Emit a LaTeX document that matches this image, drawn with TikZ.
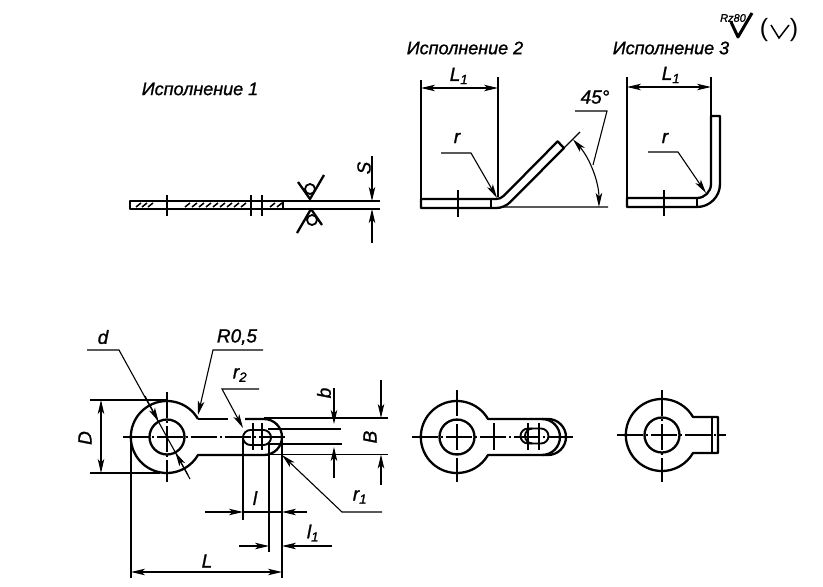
\documentclass[tikz,border=0pt]{standalone}
\usepackage{fontspec}
\setmainfont[ItalicFeatures={FakeBold=1.2}]{Liberation Sans}
\usetikzlibrary{arrows.meta}
\tikzset{
  >={Stealth[length=14pt,width=6.5pt,inset=3.5pt]}, % long narrow heads of the dimensions
  contour/.style={line width=2.3pt, line join=round},
  slotline/.style={line width=1.9pt, line join=round},
  thinline/.style={line width=1.1pt},
  axisline/.style={thinline, dash pattern=on 26pt off 3pt on 2pt off 3pt},
  heading/.style={font=\itshape\fontsize{18}{18}\selectfont, inner sep=0pt},
  dimtext/.style={font=\itshape\fontsize{19}{19}\selectfont, inner sep=0pt},
}
\begin{document}
\begin{tikzpicture}[x=1pt, y=-1pt]
  \useasboundingbox (0,0) rectangle (823,587);

  % headings and roughness marks
  \node[heading] (head1) at (200,89) {Исполнение 1};
  \node[heading] (head2) at (465,48) {Исполнение 2};
  \node[heading] (head3) at (671,48) {Исполнение 3};
  \node[font=\itshape\fontsize{11}{11}\selectfont, inner sep=0pt] (rough) at (733,18) {Rz80};
  \node[font=\fontsize{25}{25}\selectfont, inner sep=0pt] (openp) at (764,30) {(};
  \node[font=\fontsize{25}{25}\selectfont, inner sep=0pt] (closep) at (794,30) {)};
  \coordinate (c1) at (731,22); \coordinate (c2) at (738,37); \coordinate (c3) at (752,13);
  \coordinate (v1) at (771,25); \coordinate (v2) at (779,38); \coordinate (v3) at (789,25);
  \draw[line width=3pt, line join=round] (c1) -- (c2) -- (c3);
  \draw[line width=1.5pt] (v1) -- (v2) -- (v3);

  % version 1, flat strip
  \draw[contour] (130,201) rectangle (283,209);
  \foreach \hx in {136,142,148,185,192,199,206,213,220,227,234,241,270,277}
    \draw[line width=1.5pt] (\hx,207) -- (\hx+5,203);
  \foreach \hx in {167,251,262}
    \draw[thinline] (\hx,195) -- (\hx,216);
  \coordinate (s1) at (283,201); \coordinate (s2) at (380,201);
  \coordinate (s3) at (283,209); \coordinate (s4) at (380,209);
  \draw[thinline] (s1) -- (s2) (s3) -- (s4);
  \coordinate (stop) at (372,156); \coordinate (stip) at (372,201);
  \coordinate (sbot) at (372,243); \coordinate (sbip) at (372,209);
  \draw[thinline,->] (stop) -- (stip);
  \draw[thinline,->] (sbot) -- (sbip);
  \node[dimtext, rotate=90] (Slabel) at (364,168) {S};
  % weld marks
  \draw[contour] (298,182) -- (310,199) -- (324,175);
  \draw[contour] (297,233) -- (311,209) -- (322,225);
  \node[circle, draw, line width=1.8pt, minimum size=10pt, inner sep=0pt] (weldA) at (310,189) {};
  \node[circle, draw, line width=1.8pt, minimum size=10pt, inner sep=0pt] (weldB) at (312,220) {};

  % version 2, bent by 45 degrees
  \draw[contour] (421,208) -- (496,208) arc[start angle=270, end angle=315, radius=20pt]
    -- (564,148) -- (557.6,141.4) -- (503.8,195.8)
    arc[start angle=315, end angle=270, radius=11pt] -- (421,199) -- cycle;
  \draw[contour] (491,199) -- (491,208);
  \draw[thinline] (458,190) -- (458,217);
  \coordinate (e21) at (421,80); \coordinate (e22) at (421,200);
  \coordinate (e23) at (498,77); \coordinate (e24) at (498,197);
  \draw[thinline] (e21) -- (e22) (e23) -- (e24);
  \coordinate (d21) at (421,88); \coordinate (d22) at (498,88);
  \draw[thinline,<->] (d21) -- (d22);
  \node[dimtext] (Lone2) at (459,76) {L$_{\mathit{1}}$};
  \coordinate (r21) at (441,153); \coordinate (r22) at (471,153); \coordinate (r23) at (497,198);
  \draw[thinline,->] (r21) -- (r22) -- (r23);
  \node[dimtext] (r2) at (457,138) {r};
  \coordinate (base1) at (503,207); \coordinate (base2) at (608,207);
  \coordinate (slant1) at (564,148); \coordinate (slant2) at (580,132);
  \draw[thinline] (base1) -- (base2) (slant1) -- (slant2);
  \coordinate (ang1) at (573,139.4);
  \draw[thinline,<->] (ang1) arc[start angle=42, end angle=0, radius=101pt];
  \coordinate (a1) at (575,111); \coordinate (a2) at (607,111); \coordinate (a3) at (593,165);
  \draw[thinline] (a1) -- (a2) -- (a3);
  \node[dimtext] (angle) at (595,97) {45°};

  % version 3, bent at right angle
  \draw[contour] (627,207) -- (697,207) arc[start angle=270, end angle=360, radius=23pt]
    -- (720,116) -- (711,116) -- (711,184)
    arc[start angle=0, end angle=-90, radius=14pt] -- (627,198) -- cycle;
  \draw[contour] (697,198) -- (697,207);
  \draw[thinline] (664,190) -- (664,216);
  \coordinate (e31) at (627,77); \coordinate (e32) at (627,200);
  \coordinate (e33) at (711,77); \coordinate (e34) at (711,116);
  \draw[thinline] (e31) -- (e32) (e33) -- (e34);
  \coordinate (d31) at (627,87); \coordinate (d32) at (711,87);
  \draw[thinline,<->] (d31) -- (d32);
  \node[dimtext] (Lone3) at (671,75) {L$_{\mathit{1}}$};
  \coordinate (r31) at (648,152); \coordinate (r32) at (678,152); \coordinate (r33) at (706,193);
  \draw[thinline,->] (r31) -- (r32) -- (r33);
  \node[dimtext] (r3) at (665,138) {r};

  % plan, left view with dimensions
  \draw[contour] (198,419) arc[start angle=30, end angle=330, radius=36pt] -- (264,455)
    arc[start angle=-90, end angle=90, radius=18pt] -- (245,419);
  \draw[contour] (198,419) -- (228,419);
  \node[circle, draw, line width=2.3pt, minimum size=35pt, inner sep=0pt] (holeL) at (167,437) {};
  \draw[slotline] (250.5,430) -- (263.5,430) arc[start angle=90, end angle=-90, radius=7.5pt]
    -- (250.5,445) arc[start angle=270, end angle=90, radius=7.5pt];
  \draw[axisline] (123,437) -- (287,437);
  \draw[axisline] (167,392) -- (167,482);
  \foreach \hx in {253,262}
    \draw[thinline] (\hx,423) -- (\hx,450);
  % dimension D
  \coordinate (D1) at (90,400); \coordinate (D2) at (167,400);
  \coordinate (D3) at (90,473); \coordinate (D4) at (160,473);
  \draw[thinline] (D1) -- (D2) (D3) -- (D4);
  \coordinate (Dtop) at (101,400); \coordinate (Dbot) at (101,473);
  \draw[thinline,<->] (Dtop) -- (Dbot);
  \node[dimtext, rotate=90] (Dlabel) at (85,438) {D};
  % leader of d
  \coordinate (ld1) at (87,350); \coordinate (ld2) at (119,350); \coordinate (ld3) at (190,479);
  \coordinate (ldA) at (158.6,421.6); \coordinate (ldB) at (175.4,452.4);
  \draw[thinline] (ld1) -- (ld2) -- (ld3);
  \draw[thinline,->] (145,396) -- (ldA);
  \draw[thinline,->] (188,475) -- (ldB);
  \node[dimtext] (dlabel) at (103,337) {d};
  % leader of R0,5
  \coordinate (lR1) at (263,350); \coordinate (lR2) at (213,350); \coordinate (lR3) at (198,415);
  \draw[thinline,->] (lR1) -- (lR2) -- (lR3);
  \node[dimtext] (Rlabel) at (237,337) {R0,5};
  % leader of r2
  \coordinate (lr1) at (259,389); \coordinate (lr2) at (222,389); \coordinate (lr3) at (243,428);
  \draw[thinline,->] (lr1) -- (lr2) -- (lr3);
  \node[dimtext] (rtwo) at (240,375) {r$_{\mathit{2}}$};
  % leader of r1
  \coordinate (lq1) at (382,512); \coordinate (lq2) at (342,512); \coordinate (lq3) at (282,455);
  \draw[thinline,->] (lq1) -- (lq2) -- (lq3);
  \node[dimtext] (rone) at (360,497) {r$_{\mathit{1}}$};
  % extension lines to the right, b and B
  \coordinate (x1) at (264,418); \coordinate (x2) at (388,418);
  \coordinate (x3) at (268,429); \coordinate (x4) at (341,429);
  \coordinate (x5) at (268,444); \coordinate (x6) at (342,444);
  \coordinate (x7) at (264,454.5); \coordinate (x8) at (388,454.5);
  \draw[thinline] (x1) -- (x2) (x3) -- (x4) (x5) -- (x6) (x7) -- (x8);
  \coordinate (b1) at (334,388); \coordinate (b2) at (334,424);
  \coordinate (b3) at (334,478); \coordinate (b4) at (334,447);
  \draw[thinline,->] (b1) -- (b2);
  \draw[thinline,->] (b3) -- (b4);
  \node[dimtext, rotate=90] (blabel) at (324,393) {b};
  \coordinate (B1) at (381,380); \coordinate (B2) at (381,418);
  \coordinate (B3) at (381,485); \coordinate (B4) at (381,454.5);
  \draw[thinline,->] (B1) -- (B2);
  \draw[thinline,->] (B3) -- (B4);
  \node[dimtext, rotate=90] (Blabel) at (370,437) {B};
  % extension lines below, l, l1 and L
  \coordinate (f1) at (131,437); \coordinate (f2) at (131,578);
  \coordinate (f3) at (243,437); \coordinate (f4) at (243,520);
  \coordinate (f5) at (269,444); \coordinate (f6) at (269,552);
  \coordinate (f7) at (282,437); \coordinate (f8) at (282,578);
  \draw[thinline] (f1) -- (f2) (f3) -- (f4) (f5) -- (f6) (f7) -- (f8);
  \coordinate (g1) at (205,512); \coordinate (g2) at (243,512);
  \coordinate (g3) at (307,512); \coordinate (g4) at (282,512);
  \draw[thinline,->] (g1) -- (g2);
  \draw[thinline,->] (g3) -- (g4);
  \draw[thinline] (g2) -- (g4);
  \node[dimtext] (llabel) at (255,498) {l};
  \coordinate (h1) at (239,546); \coordinate (h2) at (269,546);
  \coordinate (h3) at (332,546); \coordinate (h4) at (282,546);
  \draw[thinline,->] (h1) -- (h2);
  \draw[thinline,->] (h3) -- (h4);
  \node[dimtext] (lone) at (313,533) {l$_{\mathit{1}}$};
  \coordinate (k1) at (131,572); \coordinate (k2) at (282,572);
  \draw[thinline,<->] (k1) -- (k2);
  \node[dimtext] (Llabel) at (207,561) {L};

  % plan, middle view
  \draw[contour] (488,419) arc[start angle=30, end angle=330, radius=36pt] -- (548,455)
    arc[start angle=-90, end angle=90, radius=18pt] -- cycle;
  \draw[contour] (542,419) arc[start angle=90, end angle=-90, radius=18pt];
  \node[circle, draw, line width=2.3pt, minimum size=35pt, inner sep=0pt] (holeM) at (457,437) {};
  \draw[slotline] (532.5,428.5) -- (541,428.5) arc[start angle=90, end angle=-90, radius=7.5pt]
    -- (532.5,443.5) arc[start angle=270, end angle=90, radius=7.5pt];
  \draw[slotline] (532,428.5) -- (528,428.5) arc[start angle=90, end angle=270, radius=7.5pt] -- (532,443.5);
  \draw[axisline] (412,437) -- (573,437);
  \draw[axisline] (457,390) -- (457,482);
  \foreach \hx in {494,528,539}
    \draw[thinline] (\hx,423) -- (\hx,450);

  % plan, right view
  \draw[contour] (693,417) arc[start angle=30, end angle=330, radius=36pt] -- (718,453) -- (718,417) -- cycle;
  \draw[contour] (712,417) -- (712,453);
  \node[circle, draw, line width=2.3pt, minimum size=35pt, inner sep=0pt] (holeR) at (662,435) {};
  \draw[axisline] (617,435) -- (726,435);
  \draw[axisline] (662,390) -- (662,482);
\end{tikzpicture}
\end{document}
